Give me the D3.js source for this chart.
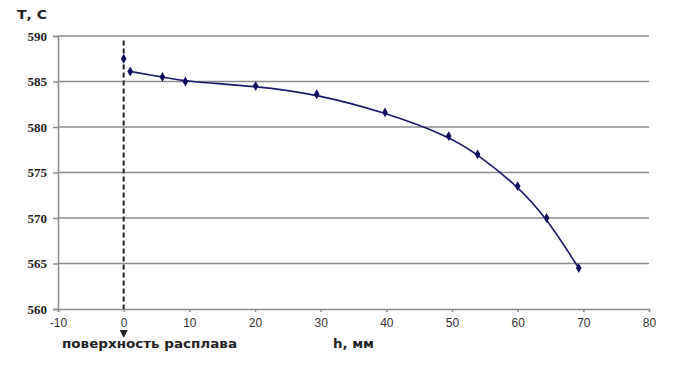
<!DOCTYPE html>
<html>
<head>
<meta charset="utf-8">
<script src="https://cdn.jsdelivr.net/npm/d3@7"></script>
<style>
  body { margin: 0; background: #fff; }
</style>
</head>
<body>
<div id="chart"></div>
<script>
"use strict";

// measured points, h (mm) and T (C)
var surfacePoint = [0, 587.5];
var depthH = [1, 5.9, 9.4, 20.1, 29.4, 39.8, 49.5, 53.9, 60.0, 64.4, 69.3];
var tempT = [586.1, 585.5, 585.0, 584.5, 583.6, 581.6, 579.0, 577.0, 573.5, 570.0, 564.5];
var xTicks = [-10, 0, 10, 20, 30, 40, 50, 60, 70, 80];
var yTicks = [560, 565, 570, 575, 580, 585, 590];

var W = 697, H = 365;
var margin = { top: 36, right: 48, bottom: 56, left: 58 };

var svg = d3.select("#chart").append("svg")
  .attr("width", W).attr("height", H);

var x = d3.scaleLinear().domain([-10, 80]).range([margin.left, W - margin.right]);
var y = d3.scaleLinear().domain([560, 590]).range([H - margin.bottom, margin.top]);

// horizontal grid
svg.append("g")
  .selectAll("line")
  .data(yTicks.slice(1))
  .enter().append("line")
  .attr("x1", x(-10)).attr("x2", x(80))
  .attr("y1", function(d) { return y(d); })
  .attr("y2", function(d) { return y(d); })
  .attr("stroke", "#8c8c8c").attr("stroke-width", 1.5);

// axes
var xAxis = svg.append("g")
  .attr("transform", "translate(0," + y(560) + ")")
  .call(d3.axisBottom(x).tickValues(xTicks).tickSize(3).tickPadding(6)
    .tickFormat(function(d) { return String(d); }));
xAxis.select(".domain").attr("stroke", "#8c8c8c").attr("stroke-width", 1.5);
xAxis.selectAll(".tick line").attr("stroke", "#8c8c8c").attr("stroke-width", 1.5);
xAxis.selectAll("text")
  .attr("font-family", "Liberation Sans, Arial, sans-serif")
  .attr("font-size", 12).attr("fill", "#333");

var yAxis = svg.append("g")
  .attr("transform", "translate(" + x(-10) + ",0)")
  .call(d3.axisLeft(y).tickValues(yTicks).tickSize(5).tickPadding(6));
yAxis.select(".domain").attr("stroke", "#8c8c8c").attr("stroke-width", 1.5);
yAxis.selectAll(".tick line").attr("stroke", "#8c8c8c").attr("stroke-width", 1.5);
yAxis.selectAll("text")
  .attr("font-family", "Liberation Serif, Times New Roman, serif")
  .attr("font-weight", "bold")
  .attr("font-size", 13).attr("fill", "#222");

// melt surface dashed line
svg.append("line")
  .attr("x1", x(0)).attr("x2", x(0))
  .attr("y1", y(589.5)).attr("y2", y(560))
  .attr("stroke", "#222").attr("stroke-width", 2)
  .attr("stroke-dasharray", "5,3");

// trend curve
var pts = depthH.map(function(h, i) { return [h, tempT[i]]; });
var line = d3.line()
  .x(function(d) { return x(d[0]); })
  .y(function(d) { return y(d[1]); })
  .curve(d3.curveBasis);

svg.append("path")
  .datum(pts)
  .attr("d", line)
  .attr("fill", "none")
  .attr("stroke", "#1a1a6e").attr("stroke-width", 1.6);

// markers
var diamond = d3.symbol().type(d3.symbolDiamond).size(28);
svg.append("g")
  .selectAll("path")
  .data([surfacePoint].concat(pts))
  .enter().append("path")
  .attr("d", diamond)
  .attr("transform", function(d) { return "translate(" + x(d[0]) + "," + y(d[1]) + ")"; })
  .attr("fill", "#10105e");

// labels
var boldFont = "DejaVu Sans, Arial, sans-serif";
svg.append("text")
  .attr("x", 17).attr("y", 19)
  .attr("font-family", boldFont)
  .attr("font-weight", "bold").attr("font-size", 12)
  .attr("textLength", 30).attr("lengthAdjust", "spacingAndGlyphs")
  .attr("fill", "#222")
  .text("Т, С");

svg.append("path")
  .attr("d", "M" + (x(0) - 4) + ",330 L" + (x(0) + 4) + ",330 L" + x(0) + ",338 Z")
  .attr("fill", "#222");

svg.append("text")
  .attr("x", 62).attr("y", 348)
  .attr("font-family", boldFont)
  .attr("font-weight", "bold").attr("font-size", 12)
  .attr("textLength", 175).attr("lengthAdjust", "spacingAndGlyphs")
  .attr("fill", "#222")
  .text("поверхность расплава");

svg.append("text")
  .attr("x", 333).attr("y", 348)
  .attr("font-family", boldFont)
  .attr("font-weight", "bold").attr("font-size", 12)
  .attr("textLength", 41).attr("lengthAdjust", "spacingAndGlyphs")
  .attr("fill", "#222")
  .text("h, мм");
</script>
</body>
</html>
